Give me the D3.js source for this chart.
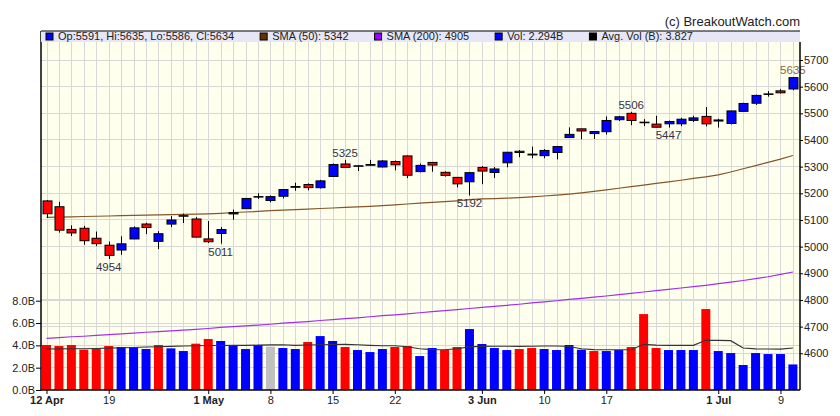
<!DOCTYPE html>
<html>
<head>
<meta charset="utf-8">
<script src="https://cdnjs.cloudflare.com/ajax/libs/d3/7.8.5/d3.min.js"></script>
<style>
  body { margin: 0; background: #fff; }
  svg { display: block; font-family: "Liberation Sans", Arial, sans-serif; }
</style>
</head>
<body>
<div class="container"></div>
<script>
var width = 840;
var height = 416;
var plot = {left: 41, right: 800, top: 31, bottom: 390};

var dates = ["2024-04-12","2024-04-15","2024-04-16","2024-04-17","2024-04-18","2024-04-19",
  "2024-04-22","2024-04-23","2024-04-24","2024-04-25","2024-04-26",
  "2024-04-29","2024-04-30","2024-05-01","2024-05-02","2024-05-03",
  "2024-05-06","2024-05-07","2024-05-08","2024-05-09","2024-05-10",
  "2024-05-13","2024-05-14","2024-05-15","2024-05-16","2024-05-17",
  "2024-05-20","2024-05-21","2024-05-22","2024-05-23","2024-05-24",
  "2024-05-28","2024-05-29","2024-05-30","2024-05-31",
  "2024-06-03","2024-06-04","2024-06-05","2024-06-06","2024-06-07",
  "2024-06-10","2024-06-11","2024-06-12","2024-06-13","2024-06-14",
  "2024-06-17","2024-06-18","2024-06-20","2024-06-21",
  "2024-06-24","2024-06-25","2024-06-26","2024-06-27","2024-06-28",
  "2024-07-01","2024-07-02","2024-07-03","2024-07-05",
  "2024-07-08","2024-07-09","2024-07-10"];

var opens = [5171.51,5149.67,5064.59,5068.97,5031.52,5005.44,
  4987.33,5028.85,5084.86,5019.88,5084.65,
  5114.13,5103.78,5029.03,5049.32,5122.78,
  5142.42,5187.20,5172.95,5189.03,5225.49,
  5233.08,5221.10,5263.26,5310.07,5303.10,
  5305.35,5298.69,5319.28,5340.26,5281.45,
  5315.91,5278.73,5259.77,5243.21,
  5297.15,5278.24,5314.48,5357.80,5343.81,
  5341.22,5353.00,5409.13,5441.93,5424.08,
  5431.11,5476.15,5499.99,5466.77,
  5459.58,5460.73,5460.71,5473.59,5488.48,
  5471.08,5461.84,5507.44,5537.91,
  5572.75,5584.24,5591.26];

var highs = [5175.03,5168.43,5079.84,5077.96,5056.66,5019.02,
  5038.84,5076.12,5089.48,5057.75,5114.62,
  5123.49,5110.83,5096.12,5073.21,5139.12,
  5181.00,5200.23,5191.95,5215.30,5239.66,
  5237.26,5250.37,5311.76,5325.49,5305.45,
  5325.32,5324.32,5323.18,5341.88,5311.65,
  5315.91,5282.27,5260.21,5280.33,
  5302.11,5298.80,5354.16,5362.35,5375.08,
  5365.79,5375.95,5447.25,5441.93,5432.39,
  5488.50,5490.38,5505.53,5478.31,
  5490.66,5472.88,5483.14,5490.81,5523.64,
  5479.55,5509.69,5539.27,5570.33,
  5583.11,5590.75,5635.39];

var lows = [5107.94,5052.47,5039.83,5007.25,5001.89,4953.56,
  4969.40,5027.96,5047.02,4990.58,5073.14,
  5088.65,5035.31,5013.45,5011.05,5101.22,
  5142.42,5178.96,5165.86,5180.41,5209.68,
  5211.16,5217.98,5263.26,5296.19,5283.59,
  5302.40,5297.87,5286.01,5256.93,5278.39,
  5280.89,5262.70,5222.10,5191.68,
  5234.32,5257.63,5297.64,5335.36,5331.33,
  5331.52,5327.25,5409.13,5402.51,5403.75,
  5420.40,5471.32,5455.56,5452.03,
  5447.59,5446.56,5451.87,5467.54,5451.12,
  5446.53,5458.43,5507.42,5531.63,
  5562.51,5574.57,5586.44];

var closes = [5123.41,5061.82,5051.41,5022.21,5011.12,4967.23,
  5010.60,5070.55,5071.63,5048.42,5099.96,
  5116.17,5035.69,5018.39,5064.20,5127.79,
  5180.74,5187.70,5187.67,5214.08,5222.68,
  5221.42,5246.68,5308.15,5297.10,5303.27,
  5308.13,5321.41,5307.01,5267.84,5304.72,
  5306.04,5266.95,5235.48,5277.51,
  5283.40,5291.34,5354.03,5352.96,5346.99,
  5360.79,5375.32,5421.03,5433.74,5431.60,
  5473.23,5487.03,5473.17,5464.62,
  5447.87,5469.30,5477.90,5482.87,5460.48,
  5475.09,5509.01,5537.02,5567.19,
  5572.85,5576.98,5633.91];
var prevClose = 5199.06;

// volume in billions
var volumes = [4.03,3.94,4.03,3.61,3.73,3.94,3.85,3.82,3.67,4.03,3.73,3.49,4.15,4.57,4.39,3.97,
  3.67,4.03,3.88,3.76,3.67,4.30,4.83,4.39,3.85,3.58,3.40,3.67,3.85,3.94,3.04,3.76,3.58,3.85,5.46,
  4.12,3.76,3.58,3.67,3.76,3.67,3.58,4.03,3.61,3.49,3.49,3.58,3.85,6.80,3.76,3.58,3.58,3.58,7.25,
  3.49,3.31,2.24,3.31,3.22,3.22,2.29];
var avgVol = [3.67,3.68,3.69,3.70,3.72,3.75,3.78,3.81,3.85,3.88,3.91,3.94,3.97,3.98,3.99,4.00,
  4.00,4.02,4.04,4.05,4.00,4.03,4.05,4.07,4.09,4.05,4.00,3.97,3.96,3.88,3.70,3.62,3.60,3.70,3.86,
  3.91,3.92,3.92,3.91,3.92,3.94,3.94,3.90,3.70,3.62,3.60,3.60,3.60,4.09,4.02,4.00,4.00,4.00,4.45,
  4.45,4.42,3.76,3.68,3.67,3.66,3.76];

var sma50 = [5110,5111,5112,5113,5114,5115,5116,5117,5118,5119,5120,5121,5122,5123,5125,5128,
  5130,5132,5135,5137,5139,5141,5143,5145,5147,5149,5151,5154,5157,5160,5163,5166,5169,5172,5176,
  5179,5180,5182,5184,5187,5190,5193,5197,5202,5207,5213,5219,5225,5231,5237,5243,5249,5256,5262,
  5269,5280,5292,5304,5316,5328,5342];
var sma200 = [4656,4659,4662,4664,4667,4670,4673,4676,4679,4681,4684,4687,4690,4693,4697,4700,
  4703,4706,4709,4713,4716,4719,4723,4726,4730,4733,4737,4741,4744,4748,4752,4756,4760,4764,4768,
  4772,4776,4780,4784,4789,4793,4797,4802,4806,4811,4815,4820,4825,4830,4835,4840,4845,4850,4855,
  4861,4867,4873,4880,4887,4896,4905];

var priceTicks = [4600,4700,4800,4900,5000,5100,5200,5300,5400,5500,5600,5700];
var volTicks = [0,2,4,6,8];
var tickDates = ["2024-04-12","2024-04-19","2024-05-01","2024-05-08","2024-05-15","2024-05-22",
  "2024-06-03","2024-06-10","2024-06-17","2024-07-01","2024-07-09"];
var tickLabels = ["12 Apr","19","1 May","8","15","22","3 Jun","10","17","1 Jul","9"];

// swing high / low annotations
var markDates = ["2024-04-19","2024-05-02","2024-05-16","2024-05-31","2024-06-20","2024-06-25","2024-07-10"];
var markValues = [4954,5011,5325,5192,5506,5447,5635];
var markSides = ["low","low","high","low","high","low","high"];

var legendLabels = ["Op:5591, Hi:5635, Lo:5586, Cl:5634","SMA (50): 5342","SMA (200): 4905",
  "Vol: 2.294B","Avg. Vol (B): 3.827"];
var legendColors = ["#0000ff","#663300","#9900ff","#0000ff","#000000"];

var data = dates.map((d, i) => ({date: d, open: opens[i], high: highs[i], low: lows[i],
  close: closes[i], vol: volumes[i], prev: i == 0 ? prevClose : closes[i-1]}));

//-----------------------------------------
// 1. SVG
var svg = d3.select(".container")
  .append("svg")
  .attr("width", width)
  .attr("height", height);

svg.append("rect")
  .attr("x", plot.left).attr("y", plot.top)
  .attr("width", plot.right - plot.left).attr("height", plot.bottom - plot.top)
  .attr("fill", "#ffffee");

svg.append("text")
  .attr("x", plot.right).attr("y", 26)
  .attr("text-anchor", "end")
  .attr("font-size", "13px")
  .attr("fill", "#222")
  .text("(c) BreakoutWatch.com");

//-----------------------------------------
// 2. SCALES
var xScale = d3.scalePoint()
  .domain(dates)
  .range([46.5, 792.9]);
var yScale = d3.scaleLinear()
  .domain([4600, 5700])
  .range([353.3, 60]);
var vScale = d3.scaleLinear()
  .domain([0, 8])
  .range([plot.bottom, 300.7]);

//-----------------------------------------
// 3. GRID
var grid = svg.append("g").attr("stroke", "#d8d8d8").attr("stroke-width", 1)
  .attr("shape-rendering", "crispEdges");
grid.selectAll(".vg").data(dates).enter().append("line")
  .attr("x1", d => Math.round(xScale(d)) + 0.5).attr("x2", d => Math.round(xScale(d)) + 0.5)
  .attr("y1", 42).attr("y2", plot.bottom);
grid.selectAll(".hg").data(priceTicks).enter().append("line")
  .attr("x1", plot.left).attr("x2", plot.right)
  .attr("y1", d => yScale(d)).attr("y2", d => yScale(d));
grid.selectAll(".vlg").data(volTicks.slice(1)).enter().append("line")
  .attr("x1", plot.left).attr("x2", plot.right)
  .attr("y1", d => vScale(d)).attr("y2", d => vScale(d));

//-----------------------------------------
// 4. VOLUME
svg.selectAll(".vol")
  .data(data)
  .enter()
  .append("rect")
  .attr("class", "vol")
  .attr("x", d => xScale(d.date) - 4.5)
  .attr("width", 9)
  .attr("y", d => vScale(d.vol))
  .attr("height", d => plot.bottom - vScale(d.vol))
  .attr("fill", function(d){
    var ch = d.close - d.prev;
    if (Math.abs(ch) < 0.1) return "#c0c0c0";
    return ch > 0 ? "#0000ff" : "#ff0000";
  });

svg.append("path")
  .datum(avgVol)
  .attr("fill", "none")
  .attr("stroke", "#333")
  .attr("stroke-width", 1.1)
  .attr("d", d3.line().x((d, i) => xScale(dates[i])).y(d => vScale(d)));

//-----------------------------------------
// 5. MOVING AVERAGES
svg.append("path")
  .datum(sma200)
  .attr("fill", "none")
  .attr("stroke", "#a030f0")
  .attr("stroke-width", 1.2)
  .attr("d", d3.line().x((d, i) => xScale(dates[i])).y(d => yScale(d)));

svg.append("path")
  .datum(sma50)
  .attr("fill", "none")
  .attr("stroke", "#85562a")
  .attr("stroke-width", 1.2)
  .attr("d", d3.line().x((d, i) => xScale(dates[i])).y(d => yScale(d)));

//-----------------------------------------
// 6. CANDLES
var candle = svg.selectAll(".candle")
  .data(data)
  .enter()
  .append("g")
  .attr("class", "candle");

candle.append("line")
  .attr("x1", d => Math.round(xScale(d.date)) + 0.5)
  .attr("x2", d => Math.round(xScale(d.date)) + 0.5)
  .attr("y1", d => yScale(d.high))
  .attr("y2", d => yScale(d.low))
  .attr("stroke", "#000");

candle.append("rect")
  .attr("x", d => Math.round(xScale(d.date)) - 4)
  .attr("width", 9)
  .attr("y", d => yScale(Math.max(d.open, d.close)))
  .attr("height", d => Math.max(Math.abs(yScale(d.open) - yScale(d.close)), 0.5))
  .attr("fill", d => d.close >= d.open ? "#0000ff" : "#ff0000")
  .attr("stroke", "#000")
  .attr("stroke-width", 1);

svg.selectAll(".mark")
  .data(markDates)
  .enter()
  .append("text")
  .attr("class", "mark")
  .attr("x", d => xScale(d))
  .attr("y", (d, i) => markSides[i] == "high" ? yScale(markValues[i]) - 3 : yScale(markValues[i]) + 12)
  .attr("text-anchor", "middle")
  .attr("font-size", "11.5px")
  .attr("fill", (d, i) => i == markDates.length - 1 ? "#8a6a40" : "#333344")
  .text((d, i) => markValues[i]);

//-----------------------------------------
// 7. AXES
var xAxis = d3.axisBottom(xScale)
  .tickValues(tickDates)
  .tickSize(4)
  .tickPadding(2)
  .tickFormat((d, i) => tickLabels[i]);
var gx = svg.append("g")
  .attr("transform", "translate(0," + plot.bottom + ")")
  .call(xAxis);
gx.select(".domain").remove();
gx.selectAll("text")
  .attr("font-size", "11px")
  .attr("font-family", "Liberation Sans, Arial, sans-serif")
  .attr("fill", "#222")
  .attr("font-weight", (d, i) => tickLabels[i].indexOf(" ") > 0 ? "bold" : "normal");

var yAxis = d3.axisRight(yScale)
  .tickValues(priceTicks)
  .tickSize(3)
  .tickPadding(1)
  .tickFormat(d3.format("d"));
var gy = svg.append("g")
  .attr("transform", "translate(" + plot.right + ",0)")
  .call(yAxis);
gy.select(".domain").remove();
gy.selectAll("text").attr("font-size", "11px")
  .attr("font-family", "Liberation Sans, Arial, sans-serif").attr("fill", "#222");

var vAxis = d3.axisLeft(vScale)
  .tickValues(volTicks)
  .tickSize(5)
  .tickPadding(1)
  .tickFormat(d => d3.format(".1f")(d) + "B");
var gv = svg.append("g")
  .attr("transform", "translate(" + plot.left + ",0)")
  .call(vAxis);
gv.select(".domain").remove();
gv.selectAll("text").attr("font-size", "11px")
  .attr("font-family", "Liberation Sans, Arial, sans-serif").attr("fill", "#222");

// frame lines
var frame = svg.append("g").attr("stroke", "#000").attr("stroke-width", 1.5);
frame.append("line").attr("x1", plot.left).attr("x2", plot.left).attr("y1", plot.top).attr("y2", plot.bottom);
frame.append("line").attr("x1", plot.right).attr("x2", plot.right).attr("y1", 42).attr("y2", plot.bottom);
frame.append("line").attr("x1", plot.left).attr("x2", plot.right).attr("y1", plot.bottom).attr("y2", plot.bottom);

//-----------------------------------------
// 8. LEGEND
svg.append("rect")
  .attr("x", plot.left).attr("y", plot.top)
  .attr("width", plot.right - plot.left).attr("height", 11)
  .attr("fill", "#e6e6f6");
svg.append("line")
  .attr("x1", plot.left).attr("x2", plot.right)
  .attr("y1", plot.top).attr("y2", plot.top)
  .attr("stroke", "#000").attr("stroke-width", 1);

var lx = 46;
legendLabels.forEach(function(label, i){
  svg.append("rect")
    .attr("x", lx).attr("y", 33)
    .attr("width", 7).attr("height", 7)
    .attr("fill", legendColors[i])
    .attr("stroke", "#000").attr("stroke-width", 1);
  var t = svg.append("text")
    .attr("x", lx + 12).attr("y", 39.5)
    .attr("font-size", "11px")
    .attr("fill", "#222")
    .text(label);
  lx = lx + 12 + t.node().getComputedTextLength() + 26;
});
</script>
</body>
</html>
